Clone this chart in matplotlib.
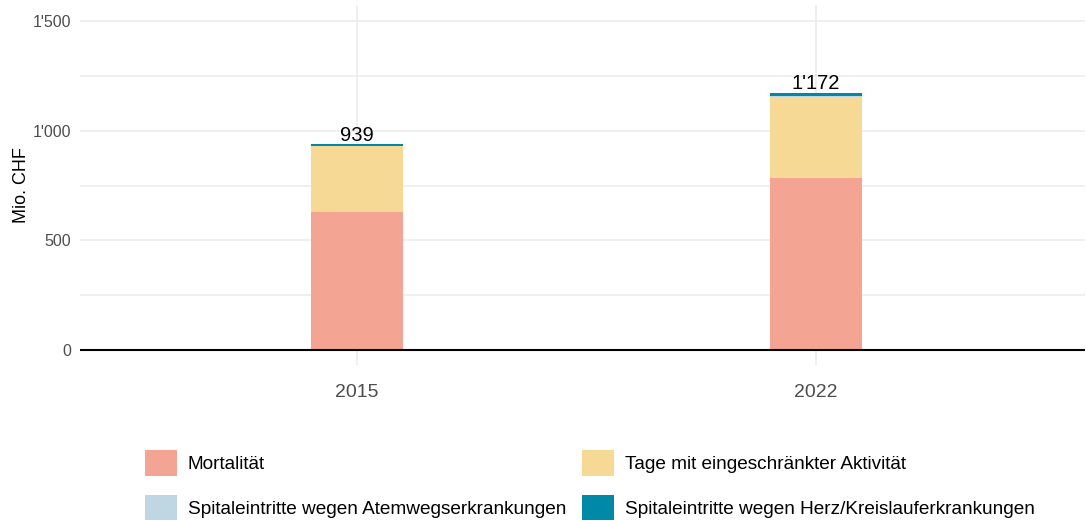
import matplotlib.pyplot as plt
from matplotlib.patches import Patch
from matplotlib.ticker import FuncFormatter, MultipleLocator
import numpy as np

plt.rcParams['font.family'] = ['Liberation Sans', 'DejaVu Sans']

years = ["2015", "2022"]
series = ["Mortalität", "Tage mit eingeschränkter Aktivität",
          "Spitaleintritte wegen Atemwegserkrankungen",
          "Spitaleintritte wegen Herz/Kreislauferkrankungen"]
mortalitaet = [631, 785]
tage = [298, 370]
atemweg = [1, 3]
herz = [9, 14]
totals = [939, 1172]
colors = ["#F4A493", "#F6D994", "#BED7E2", "#0089A7"]


def fmt(v, pos=None):
    return f"{int(v):,}".replace(",", "'")


fig = plt.figure(figsize=(10.86, 5.21), dpi=100)
ax = fig.add_axes([0.0737, 0.2994, 0.9253, 0.691])

x = np.arange(1, len(years) + 1)
bottom = np.zeros(len(years))
for vals, c in zip([mortalitaet, tage, atemweg, herz], colors):
    ax.bar(x, vals, width=0.2, bottom=bottom, color=c, zorder=2)
    bottom += np.array(vals)

for xi, t in zip(x, totals):
    ax.text(xi, t - 2, fmt(t), ha="center", va="bottom", fontsize=14.5, color="black")

ax.set_xlim(0.397, 2.586)
ax.set_ylim(-68, 1573)
ax.set_xticks(x)
ax.set_xticklabels(years)
ax.yaxis.set_major_locator(MultipleLocator(500))
ax.yaxis.set_minor_locator(MultipleLocator(250))
ax.yaxis.set_major_formatter(FuncFormatter(fmt))
ax.grid(True, which="both", axis="y", color="#EBEBEB", lw=1.1, zorder=0)
ax.grid(True, which="major", axis="x", color="#EBEBEB", lw=1.1, zorder=0)
ax.axhline(0, color="black", lw=1.5, zorder=3)
for s in ax.spines.values():
    s.set_visible(False)
ax.tick_params(axis="both", which="both", length=0)
ax.tick_params(axis="y", labelsize=11.5, colors="#4D4D4D", pad=6.5)
ax.tick_params(axis="x", labelsize=14, colors="#4D4D4D", pad=14)
ax.set_ylabel("Mio. CHF", fontsize=13, labelpad=2)

handles = [Patch(facecolor=c, edgecolor="none") for c in colors]
order = [0, 2, 1, 3]
fig.legend([handles[i] for i in order], [series[i] for i in order],
           ncol=2, loc="upper left", bbox_to_anchor=(0.1335, 0.136),
           frameon=False, fontsize=13.7, handlelength=1.68, handleheight=1.68,
           handletextpad=0.58, columnspacing=0.84, labelspacing=1.0,
           borderaxespad=0, borderpad=0)

fig.savefig("out.png", dpi=100)
